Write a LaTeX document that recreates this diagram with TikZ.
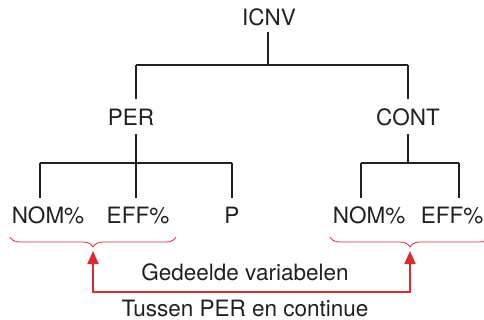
\documentclass[tikz,border=0pt]{standalone}
\usepackage{fontspec}
\setmainfont{TeX Gyre Heros}
\usetikzlibrary{arrows.meta, decorations.pathreplacing}
\definecolor{ink}{HTML}{231F20}
\definecolor{share}{HTML}{DA2C2C}

\begin{document}
\begin{tikzpicture}[
  x=1pt, y=-1pt,
  font=\fontsize{22.5}{27}\selectfont, text=ink,
  lab/.style={inner sep=1pt, anchor=base},
  stem/.style={draw=ink, line width=2pt},
  bar/.style={draw=ink, line width=1.2pt},
  brc/.style={draw=share, line width=0.8pt, decorate, decoration={brace, mirror, amplitude=10pt}},
  ar/.style={{Triangle[length=13pt, width=11pt]}-{Triangle[length=13pt, width=11pt]}, draw=share, line width=2pt}
]
\useasboundingbox (0,0) rectangle (484,320);
% tree
\node[lab] (icnv) at (269,26) {ICNV};
\node[lab] (per) at (131,126) {PER};
\node[lab] (cont) at (408,126) {CONT};
\node[lab] (nom1) at (48,224) {NOM\%};
\node[lab] (eff1) at (138,224) {EFF\%};
\node[lab] (p) at (232,224) {P};
\node[lab] (nom2) at (369,224) {NOM\%};
\node[lab] (eff2) at (452,224) {EFF\%};
\coordinate (top) at (268,65);
\coordinate (left) at (136,163);
\coordinate (right) at (408,163);
\draw[stem] (268,32) -- (top);
\draw[bar] (136,65) -- (408,65);
\draw[stem] (136,65) -- (136,99);
\draw[stem] (408,65) -- (408,99);
\draw[stem] (136,134) -- (left);
\draw[stem] (408,134) -- (right);
\draw[bar] (40,163) -- (232,163);
\draw[bar] (361,163) -- (459,163);
\foreach \x in {40,136,232,361,459}
  \draw[stem] (\x,163) -- (\x,198);
% shared variables
\draw[brc] (10,237) -- (176,237);
\draw[brc] (330,237) -- (490,237);
\coordinate (tip1) at (93,251);
\coordinate (tip2) at (410,251);
\coordinate (c1) at (93,292);
\coordinate (c2) at (410,292);
\draw[ar] (tip1) -- (c1) -- (c2) -- (tip2);
\node[lab] (shared) at (245,280) {Gedeelde variabelen};
\node[lab] (between) at (245,316) {Tussen PER en continue};
\end{tikzpicture}
\end{document}
